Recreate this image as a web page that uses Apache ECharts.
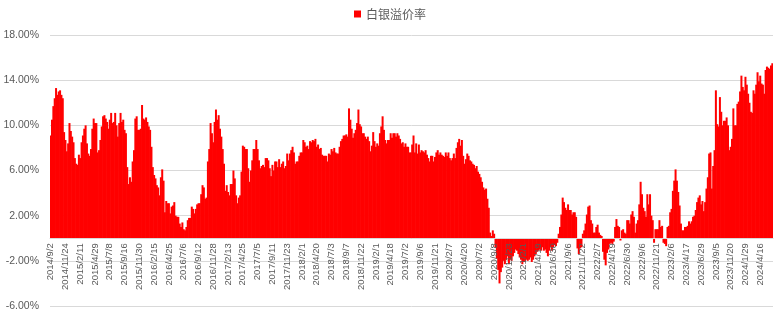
<!DOCTYPE html>
<html>
<head>
<meta charset="utf-8">
<script src="https://cdn.jsdelivr.net/npm/echarts@6/dist/echarts.min.js"></script>
<style>html,body{margin:0;padding:0;background:#fff;}#c{width:780px;height:314px;}</style>
</head>
<body>
<div id="c"></div>
<script>
// Tick labels on the category axis (one every 11 observations)
const dateLabels = ['2014/9/2','2014/11/24','2015/2/11','2015/4/29','2015/7/8','2015/9/16','2015/11/30','2016/2/15','2016/4/25','2016/7/6','2016/9/12','2016/11/28','2017/2/13','2017/4/25','2017/7/5','2017/9/11','2017/11/23','2018/2/1','2018/4/20','2018/7/3','2018/9/7','2018/11/22','2019/2/1','2019/4/18','2019/7/2','2019/9/6','2019/11/21','2020/2/7','2020/4/20','2020/7/2','2020/9/8','2020/11/23','2021/2/1','2021/4/19','2021/6/30','2021/9/6','2021/11/22','2022/2/7','2022/4/19','2022/6/30','2022/9/6','2022/11/21','2023/2/6','2023/4/17','2023/6/29','2023/9/5','2023/11/20','2024/1/29','2024/4/16'];
const labelStep = 11;
const seriesName = '白银溢价率';
const yMin = -6, yMax = 18, yStep = 4;

// Premium values (%), in chronological order
const premium2014to2017 = [9.1,10.5,11.7,12.4,13.3,12.7,13.0,13.1,12.7,12.4,
9.4,8.7,7.7,8.4,10.2,9.5,9.0,8.5,7.1,
6.6,6.5,7.4,7.1,8.5,9.1,9.7,10.0,8.4,7.5,
7.3,7.9,9.7,10.6,10.2,10.2,7.6,7.8,8.7,9.9,
10.8,10.9,10.6,10.3,9.7,10.5,11.1,10.2,10.3,11.1,
10.0,9.0,10.2,11.1,10.3,10.5,9.6,9.3,6.3,4.8,
5.4,5.0,6.8,7.8,10.6,10.8,9.6,9.6,9.7,
11.8,10.6,10.5,10.7,10.3,9.9,9.6,8.1,6.3,5.6,
5.3,4.7,4.5,3.8,5.4,6.1,5.1,2.3,3.3,3.1,
3.1,2.2,2.8,2.9,3.2,2.0,1.9,1.9,1.3,1.0,
1.4,0.8,0.7,1.0,1.6,1.8,1.8,2.8,2.6,2.2,
2.6,3.0,3.1,3.1,3.9,4.7,4.5,3.5,3.6,6.8,
7.9,10.2,9.3,8.5,10.3,11.4,10.5,10.9,9.7,9.0,
7.9,6.6,4.2,4.7,4.1,3.8,4.8,4.8,6.0,5.3,
3.8,3.1,3.6,3.8,5.9,8.2,8.1,7.9,7.9,6.2,
5.0,6.0,6.9,7.9,7.9,8.7,7.9,6.9,6.2,6.4,
6.5,6.3,7.1,7.1,6.9,6.2,5.5,6.5,6.0,6.8,
6.8,6.3,7.0];

const premium2017to2020 = [6.3,6.6,6.8,6.2,6.4,7.5,6.9,7.5,7.8,8.1,
7.6,6.6,6.8,6.8,7.3,7.6,7.6,8.7,8.5,8.1,
8.2,7.9,8.6,8.5,8.7,8.6,8.8,8.1,8.3,7.9,
8.0,7.4,7.3,7.3,7.3,6.8,7.5,7.4,7.9,7.7,
8.0,7.6,7.5,7.5,8.1,8.6,8.8,9.1,9.1,9.2,
9.0,11.5,10.5,9.7,8.9,9.3,9.6,10.2,11.4,10.1,
9.9,9.3,9.3,9.0,8.8,9.0,8.6,7.7,8.2,9.4,
8.6,8.1,8.4,8.2,9.3,9.9,10.8,9.6,8.7,8.4,
8.7,8.7,9.3,8.9,9.3,9.3,9.0,9.3,9.1,
8.8,8.4,8.5,8.1,8.4,8.1,8.1,7.6,7.6,8.3,
9.1,7.6,8.4,7.5,8.3,7.6,7.8,7.7,7.6,7.8,
7.4,7.1,6.8,7.3,7.3,6.8,7.2,7.6,7.8,7.4,
7.6,7.4,7.3,7.2,7.6,7.3,7.6,7.1,6.9,7.1,
7.5,7.1,8.0,8.5,8.8,8.2,8.7,7.3,6.6,7.0,
7.5,7.3,6.9,6.8,6.6,6.5,6.2,6.4,5.9,5.7,
5.4,5.0,4.5,4.3,4.4,3.5,2.7,0.5,0.2,0.7,0.4];

const premium2020to2021 = [-0.8,-1.8,-2.8,-4.0,-3.0,-2.6,-2.0,-2.3,-1.9,-1.6,
-2.3,-1.9,-2.0,-1.6,-1.3,-1.0,-1.1,-1.4,-1.7,
-1.9,-2.3,-2.1,-2.0,-1.9,-2.0,-1.9,-1.7,-2.1,-1.9,
-1.6,-1.4,-1.2,-1.1,-1.0,-1.1,-0.8,-1.1,-1.0,-1.3,
-1.6,-1.1,-0.8,-1.1,-0.8,-0.6,-0.7,-0.4];

const premium2021to2024 = [0.4,1.0,2.1,3.6,3.2,2.7,2.5,3.0,2.5,2.5,2.1,2.3,2.3,1.9,
-0.9,-1.4,-0.9,-0.8,
0.4,0.7,1.3,2.1,2.8,2.9,1.6,1.3,0.5,0.5,1.0,1.2,0.5,0.3,0.2,
-1.2,-1.9,-2.4,-1.3,-1.0,-0.5,-0.4,-0.5,-0.3,
1.0,1.7,1.1,1.0,-0.2,0.7,0.8,0.5,0.4,1.6,1.6,1.3,2.1,2.4,1.9,0.5,1.3,1.6,
3.0,5.0,3.9,2.7,2.4,1.9,3.9,3.0,3.9,2.0,1.6,-0.4,0.8,0.8,0.8,1.6,1.0,1.1,
-0.4,-0.5,-0.7,
1.0,1.1,2.3,2.6,4.2,5.1,6.1,5.1,4.1,2.9,1.3,0.7,0.7,1.0,1.0,1.1,1.5,1.3,1.5,
1.9,2.0,2.5,3.2,3.6,3.8,3.0,3.3,2.4,3.2,4.4,5.4,7.5,7.6,4.4,6.4,7.8,
13.1,10.1,9.9,12.5,11.2,10.0,10.4,10.4,10.7,10.0,7.8,8.1,8.8,11.5,10.0,10.0,
11.9,12.1,13.0,14.4,13.4,13.1,14.3,13.6,12.8,12.0,11.2,11.1,13.1,12.8,13.6,
14.7,13.9,14.4,13.7,13.6,12.8,14.9,15.2,15.1,15.0,15.3,15.5];

const values = [].concat(premium2014to2017, premium2017to2020, premium2020to2021, premium2021to2024);
const categories = values.map(function (v, i) {
  const k = Math.floor(i / labelStep);
  return i % labelStep === 0 ? dateLabels[k] : dateLabels[k] + '#' + (i % labelStep);
});

const H = 314, gridTop = 35, gridBottom = 8;
const plotH = H - gridTop - gridBottom;
// move the category axis (line + labels) up from the grid bottom to the zero line
const zeroOffset = -plotH * (0 - yMin) / (yMax - yMin);

const chart = echarts.init(document.getElementById('c'), null, {renderer: 'canvas'});
chart.setOption({
  animation: false,
  backgroundColor: '#ffffff',
  legend: {
    top: 3,
    left: 'center',
    itemWidth: 7,
    itemHeight: 7,
    itemGap: 10,
    icon: 'rect',
    textStyle: {color: '#595959', fontSize: 12, fontFamily: 'Noto Sans CJK SC'},
    data: [seriesName]
  },
  grid: {left: 50, right: 7, top: gridTop, bottom: gridBottom, containLabel: false, outerBoundsMode: 'none'},
  xAxis: {
    type: 'category',
    data: categories,
    boundaryGap: true,
    position: 'bottom',
    offset: zeroOffset,
    z: 5,
    axisLine: {show: true, onZero: false, lineStyle: {color: '#d9d9d9', width: 1}},
    axisTick: {show: false},
    axisLabel: {
      interval: labelStep - 1,
      rotate: 90,
      margin: 5,
      color: '#595959',
      fontSize: 9.5,
      fontFamily: 'Liberation Sans',
      hideOverlap: false
    },
    splitLine: {show: false}
  },
  yAxis: {
    type: 'value',
    min: yMin,
    max: yMax,
    interval: yStep,
    axisLine: {show: false},
    axisTick: {show: false},
    axisLabel: {
      margin: 11,
      color: '#595959',
      fontSize: 10.5,
      fontFamily: 'Liberation Sans',
      formatter: function (v) { return v.toFixed(2) + '%'; }
    },
    splitLine: {lineStyle: {color: '#d9d9d9', width: 1}}
  },
  series: [{
    name: seriesName,
    type: 'bar',
    data: values,
    barWidth: 2,
    barGap: '-100%',
    z: 2,
    itemStyle: {color: '#ff0000'}
  }]
});
</script>
</body>
</html>
